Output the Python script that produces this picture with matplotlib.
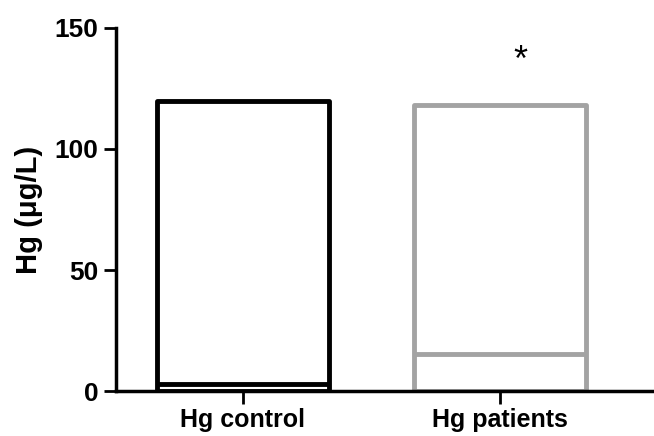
import matplotlib.pyplot as plt
import numpy as np

plt.rcParams['font.family'] = ['Liberation Sans', 'DejaVu Sans']

groups = ['Hg control', 'Hg patients']
box_low = [0, 0]
box_high = [120, 118]
medians = [3, 15.5]
colors = ['black', '#a3a3a3']
star_x = 1.08
star_y = 136

fig = plt.figure(figsize=(6.54, 4.36), dpi=100)
ax = fig.add_axes([0.177, 0.103, 0.823, 0.833])

x = np.arange(len(groups))
w = 0.67
for i in range(len(groups)):
    ax.bar(x[i], box_high[i] - box_low[i], bottom=box_low[i], width=w,
           color='white', edgecolor=colors[i], linewidth=3.5, joinstyle='round', zorder=2)
    ax.hlines(medians[i], x[i] - w / 2, x[i] + w / 2, color=colors[i], linewidth=3.5, zorder=3)

ax.text(star_x, star_y, '*', ha='center', va='center', fontsize=26)

ax.set_xlim(-0.494, 1.6)
ax.set_ylim(0, 150)
ax.set_yticks([0, 50, 100, 150])
ax.set_xticks(x)
ax.set_xticklabels(groups, fontsize=18, fontweight='bold')
ax.tick_params(axis='y', labelsize=19, width=2, length=9)
ax.tick_params(axis='x', width=2, length=9)
for lab in ax.get_yticklabels():
    lab.set_fontweight('bold')
ax.set_ylabel('Hg (\u03bcg/L)', fontsize=21, fontweight='bold', labelpad=8)

ax.spines['top'].set_visible(False)
ax.spines['right'].set_visible(False)
ax.spines['left'].set_linewidth(2.5)
ax.spines['bottom'].set_linewidth(2.5)

fig.savefig('out.png', dpi=100)
